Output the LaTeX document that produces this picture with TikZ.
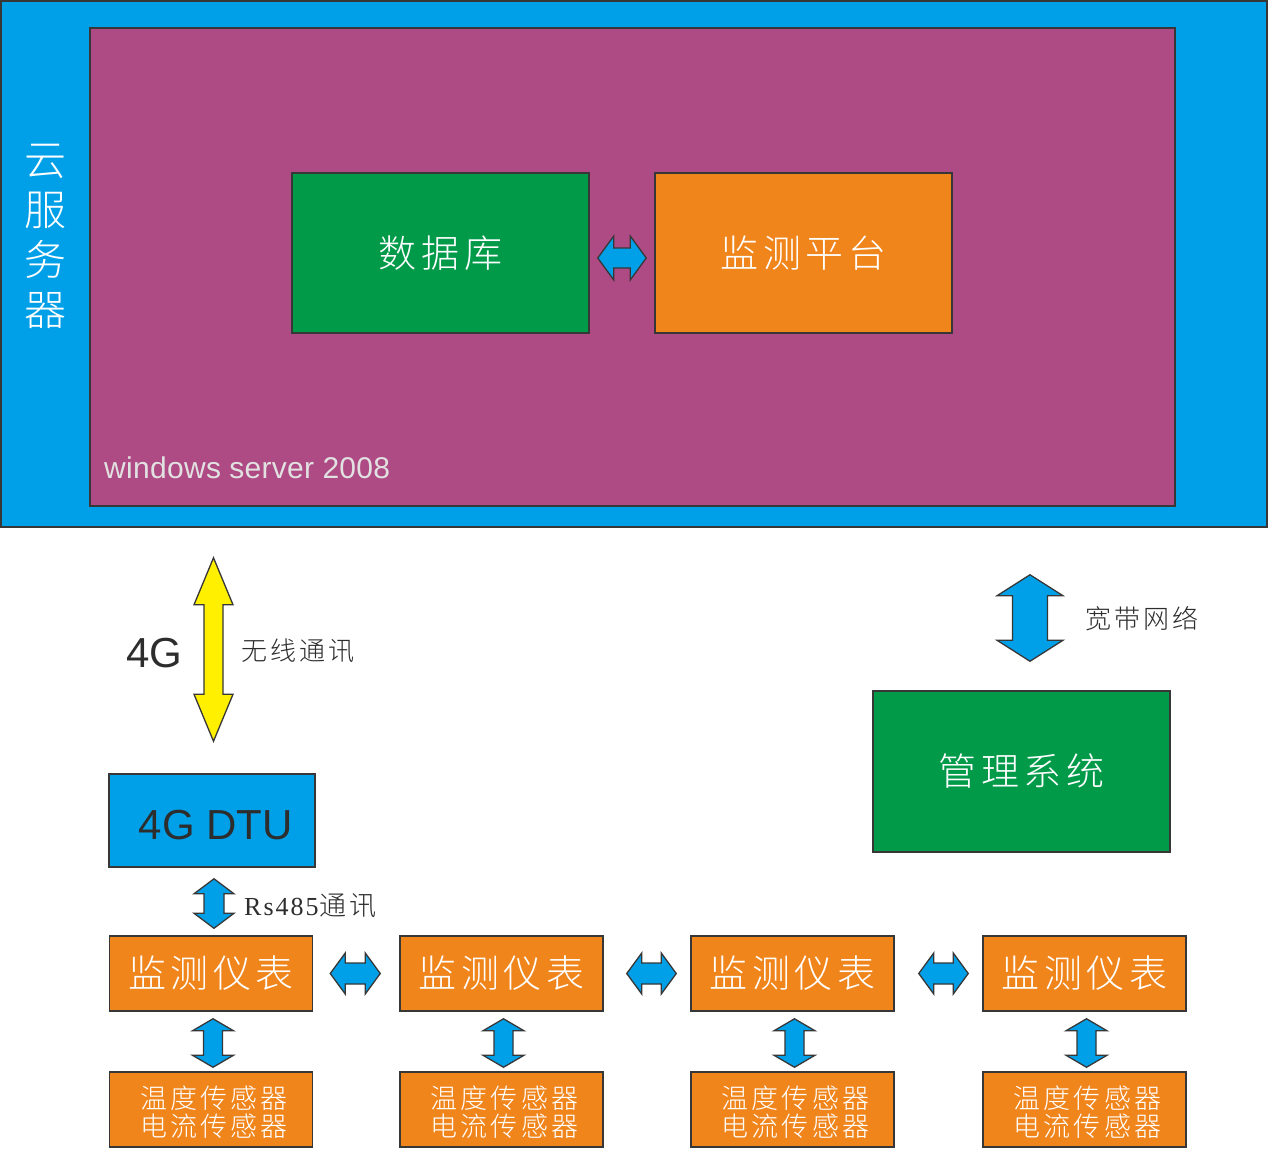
\documentclass[tikz,border=0pt]{standalone}
\usepackage{fontspec}
\setmainfont{Liberation Sans}
\newfontfamily\cjk{Noto Sans CJK SC Light}
\newfontfamily\serifrm{Liberation Serif}
\usetikzlibrary{calc}
\definecolor{cblue}{RGB}{0,160,233}
\definecolor{cpurple}{RGB}{174,74,132}
\definecolor{cgreen}{RGB}{0,154,73}
\definecolor{corange}{RGB}{240,133,28}
\definecolor{cyellow}{RGB}{255,240,0}
\definecolor{cedge}{RGB}{55,55,55}
\definecolor{ctext}{RGB}{45,45,45}
\definecolor{cws}{RGB}{225,225,225}
\newcommand\g{\hspace{0.12em}}
\newcommand\fs[2]{\fontsize{#1}{#2}\selectfont}
\tikzset{
  box/.style={draw=cedge, line width=1.5pt, inner sep=0pt, anchor=center},
  blockarrow/.style={draw=cedge, line width=1.3pt, line join=miter},
  bigtxt/.style={text=white, font=\cjk\fs{38}{44}},
  metertxt/.style={text=white, font=\cjk\fs{38}{44}},
  sensortxt/.style={text=white, font=\cjk\fs{27}{28}, align=center},
  labeltxt/.style={text=ctext, font=\cjk\fs{26}{30}},
}
% horizontal double block arrow: #2 start, #3 end, #4 head half width, #5 shaft half width, #6 head length
\newcommand\harrow[6][cblue]{%
  \draw[blockarrow, fill=#1] let \p1=(#2), \p2=(#3) in
  (\x1,\y1) -- (\x1+#6pt,\y1+#4pt) -- (\x1+#6pt,\y1+#5pt) -- (\x2-#6pt,\y1+#5pt)
  -- (\x2-#6pt,\y1+#4pt) -- (\x2,\y1) -- (\x2-#6pt,\y1-#4pt) -- (\x2-#6pt,\y1-#5pt)
  -- (\x1+#6pt,\y1-#5pt) -- (\x1+#6pt,\y1-#4pt) -- cycle;}
% vertical double block arrow: #2 top tip, #3 bottom tip
\newcommand\varrow[6][cblue]{%
  \draw[blockarrow, fill=#1] let \p1=(#2), \p2=(#3) in
  (\x1,\y1) -- (\x1+#4pt,\y1-#6pt) -- (\x1+#5pt,\y1-#6pt) -- (\x1+#5pt,\y2+#6pt)
  -- (\x1+#4pt,\y2+#6pt) -- (\x1,\y2) -- (\x1-#4pt,\y2+#6pt) -- (\x1-#5pt,\y2+#6pt)
  -- (\x1-#5pt,\y1-#6pt) -- (\x1-#4pt,\y1-#6pt) -- cycle;}
\begin{document}
\begin{tikzpicture}[x=1pt,y=-1pt]
\fill[white] (0,0) rectangle (1269,1149);
\useasboundingbox (0,0) rectangle (1269,1149);

% cloud server
\node[box, fill=cblue, minimum width=1266pt, minimum height=526pt] (cloud) at (634,264) {};
\node[box, fill=cpurple, minimum width=1085pt, minimum height=478pt] (ws) at (632.5,267) {};
\node[text=white, font=\cjk\fs{42}{50}, align=center] (cloudlbl) at (45,236) {云\\服\\务\\器};
\node[text=cws, font=\fs{30}{34}, anchor=base west, inner sep=0pt] (wslbl) at (104,478) {w\kern0.3pt i\kern0.3pt n\kern0.3pt d\kern0.3pt o\kern0.3pt w\kern0.3pt s s\kern0.3pt e\kern0.3pt r\kern0.3pt v\kern0.3pt e\kern0.3pt r 2\kern0.3pt 0\kern0.3pt 0\kern0.3pt 8};

\node[box, fill=cgreen, minimum width=297pt, minimum height=160pt, bigtxt] (db) at (440.5,253) {数\g 据\g 库};
\node[box, fill=corange, minimum width=297pt, minimum height=160pt, bigtxt] (plat) at (803.5,253) {监\g 测\g 平\g 台};
\harrow{[xshift=8pt,yshift=-5pt]db.east}{[xshift=-8pt,yshift=-5pt]plat.west}{22}{10}{16}

% management system
\node[box, fill=cgreen, minimum width=297pt, minimum height=161pt, bigtxt] (mgmt) at (1021.5,771.5) {管\g 理\g 系\g 统};
\varrow{[xshift=8.5pt,yshift=-47pt]cloud.south -| mgmt.north}{[xshift=8.5pt,yshift=29pt]mgmt.north}{33}{17.5}{21}
\node[labeltxt, anchor=west, inner sep=0pt] (bband) at (1085,619) {宽\g 带\g 网\g 络};

% 4G DTU
\node[box, fill=cblue, minimum width=206pt, minimum height=93pt] (dtu) at (212,820.5) {};
\node[text=ctext, font=\fs{42}{46}, inner sep=0pt] (dtulbl) at (216,825) {4G DTU};
\varrow[cyellow]{[xshift=1.5pt,yshift=-30pt]cloud.south -| dtu.north}{[xshift=1.5pt,yshift=32pt]dtu.north}{19.5}{9.5}{47}
\node[text=ctext, font=\fs{42}{46}, anchor=base west, inner sep=0pt] (fourg) at (126,667) {4G};
\node[labeltxt, anchor=west, inner sep=0pt] (wless) at (241,651) {无\g 线\g 通\g 讯};

% meters
\foreach \i/\x in {1/211,2/501.5,3/792.5,4/1084.5}{
  \node[box, fill=corange, minimum width=203pt, minimum height=75pt, metertxt] (m\i) at (\x,973.5) {监\g 测\g 仪\g 表};
  \node[box, fill=corange, minimum width=203pt, minimum height=75pt] (s\i) at (\x,1109.5) {};
  \node[sensortxt] (st\i) at (\x+3,1112) {温\g 度\g 传\g 感\g 器\\电\g 流\g 传\g 感\g 器};
  \varrow{[xshift=2pt,yshift=-7pt]m\i.south}{[xshift=2pt,yshift=4pt]s\i.north}{20.5}{9.5}{12}
}
\harrow{[xshift=17pt]m1.east}{[xshift=-19pt]m2.west}{20.5}{10.5}{15}
\harrow{[xshift=23pt]m2.east}{[xshift=-14pt]m3.west}{20.5}{10.5}{15}
\harrow{[xshift=24pt]m3.east}{[xshift=-14pt]m4.west}{20.5}{10.5}{15}

% Rs485
\varrow{[xshift=2pt,yshift=-11pt]dtu.south}{[xshift=2pt,yshift=7pt]m1.north}{20}{10}{15}
\node[text=ctext, anchor=west, inner sep=0pt] (rs) at (244,906) {{\serifrm\fs{26}{30}R\kern2pt s\kern2pt 4\kern2pt 8\kern2pt 5}{\cjk\fs{27}{30}\kern1pt 通\g 讯}};
\end{tikzpicture}
\end{document}
